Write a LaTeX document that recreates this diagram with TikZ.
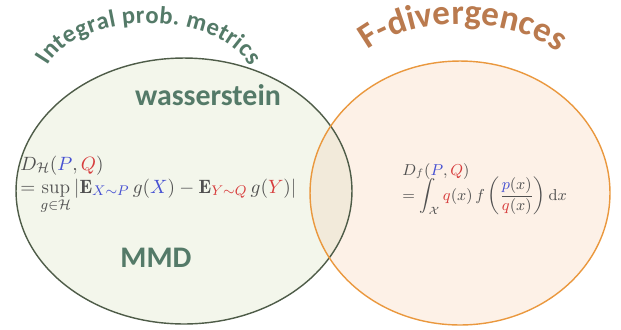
\documentclass[tikz,border=0pt]{standalone}
\usepackage{amsmath}
\usepackage{amssymb}
\usepackage{fontspec}
\usepackage{xcolor}
\newfontfamily\setfont{Carlito}
\usetikzlibrary{
    positioning,
    decorations.text
}
\tikzset{
  setlbl/.style  = {font=\setfont\bfseries\fontsize{17}{19}\selectfont, text=ipmText},
  formula/.style = {font=\fontsize{9}{11}\selectfont, text=fGray, inner sep=0pt}
}
\definecolor{ipmFill}{RGB}{243,246,235}
\definecolor{ipmLine}{RGB}{78,92,72}
\definecolor{ipmText}{RGB}{84,122,104}
\definecolor{fdFill}{RGB}{253,241,231}
\definecolor{fdLine}{RGB}{234,152,62}
\definecolor{fdText}{RGB}{186,122,78}
\definecolor{capFill}{RGB}{242,234,218}
\definecolor{fGray}{RGB}{80,80,80}
\definecolor{pBlue}{RGB}{70,80,210}
\definecolor{qRed}{RGB}{215,60,60}

\begin{document}
\begin{tikzpicture}[x=0.02cm, y=-0.02cm]
    \useasboundingbox (0,0) rectangle (621,329);

    % ── SETS ──
    \fill[ipmFill] (184,191) ellipse [x radius=3.36cm, y radius=2.66cm];
    \fill[fdFill]  (460,193) ellipse [x radius=3.0cm, y radius=2.64cm];
    \begin{scope}
      \clip (184,191) ellipse [x radius=3.36cm, y radius=2.66cm];
      \fill[capFill] (460,193) ellipse [x radius=3.0cm, y radius=2.64cm];
    \end{scope}
    \draw[ipmLine, line width=0.8pt] (184,191) ellipse [x radius=3.36cm, y radius=2.66cm];
    \draw[fdLine, line width=0.8pt]  (460,193) ellipse [x radius=3.0cm, y radius=2.64cm];

    % ── CURVED TITLES ──
    \path[decorate, decoration={text along path, text align=fit to path,
          text color=ipmText,
          text={|\setfont\bfseries\fontsize{14}{16}\selectfont|Integral prob. metrics}}]
      (48,66) .. controls (80,9) and (216,9) .. (250,66);
    \path[decorate, decoration={text along path, text align=center,
          text color=fdText,
          text={|\setfont\bfseries\fontsize{20}{22}\selectfont|F-divergences}}]
      (352,68) .. controls (388,9) and (536,9) .. (574,70);

    % ── LEFT SET ──
    \node[setlbl] (wass) at (208,95) {wasserstein};
    \node[setlbl] (mmd)  at (156,258) {MMD};
    \node[formula, font=\fontsize{11}{13}\selectfont, anchor=base west] (dHdef) at (20,170)
      {$D_{\mathcal{H}}(\textcolor{pBlue}{P},\textcolor{qRed}{Q})$};
    \node[formula, font=\fontsize{11}{13}\selectfont, anchor=base west] (dHsup) at (20,193)
      {$\displaystyle = \sup_{g\in\mathcal{H}}
        \left|\mathbf{E}_{\textcolor{pBlue}{X\sim P}}\, g(\textcolor{pBlue}{X})
        - \mathbf{E}_{\textcolor{qRed}{Y\sim Q}}\, g(\textcolor{qRed}{Y})\right|$};

    % ── RIGHT SET ──
    \node[formula, anchor=base west] (dFdef) at (402,175)
      {$D_f(\textcolor{pBlue}{P},\textcolor{qRed}{Q})$};
    \node[formula, anchor=base west] (dFint) at (402,200)
      {$\displaystyle = \int_{\mathcal{X}} \textcolor{qRed}{q}(x)\, f
        \left(\frac{\textcolor{pBlue}{p}(x)}{\textcolor{qRed}{q}(x)}\right) \mathrm{d}x$};
\end{tikzpicture}
\end{document}
